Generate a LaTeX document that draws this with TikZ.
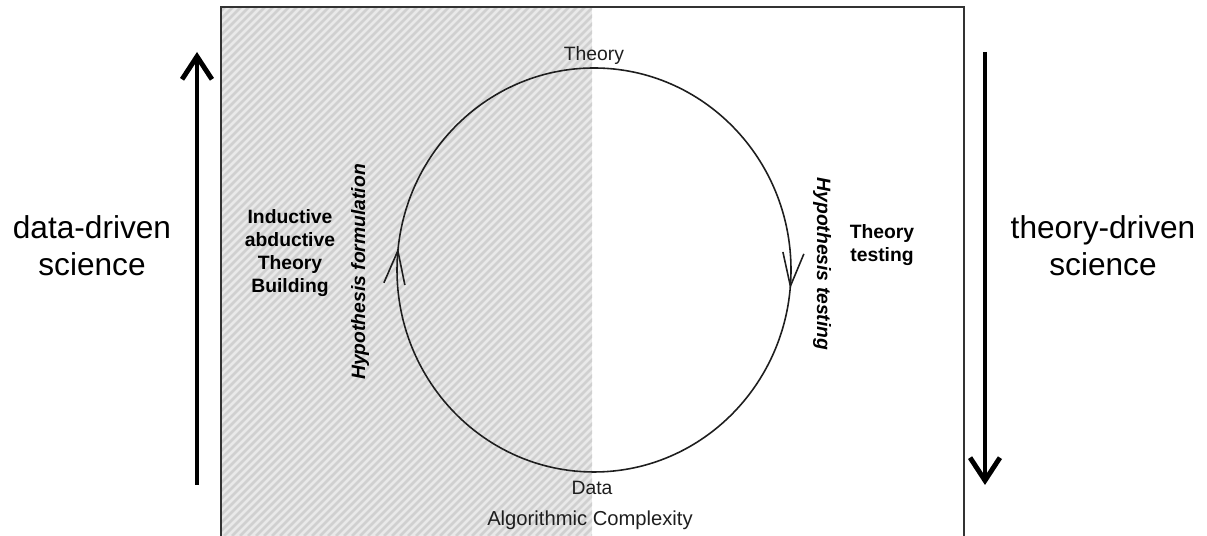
\documentclass[tikz,border=0pt]{standalone}
\usepackage{fontspec}
\setmainfont{Liberation Sans}
\usetikzlibrary{arrows.meta,decorations.markings}
\definecolor{Hatch}{HTML}{E9E9E9}
\definecolor{HatchLine}{HTML}{D0D0D0}
\definecolor{Frame}{HTML}{333333}
\definecolor{Ink}{HTML}{1E1E1E}

\begin{document}
\begin{tikzpicture}[x=0.02cm,y=0.02cm]
      \tikzstyle{side}=[align=center, font=\fontsize{18}{21}\selectfont]
      \tikzstyle{phase}=[align=center, font=\fontsize{11}{13}\selectfont\bfseries]
      \tikzstyle{hyp}=[font=\fontsize{11}{13}\selectfont\bfseries\itshape]
      \tikzstyle{pole}=[font=\fontsize{11}{13}\selectfont, text=Ink]
      \tikzstyle{trend}=[line width=2.8pt, -{Straight Barb[length=13pt,width=17pt]}]
      \tikzstyle{cycle}=[line width=0.9pt, color=Ink]
      \useasboundingbox (0,0) rectangle (1207,536);
      % shaded half
      \begin{scope}
        \clip (221,0) rectangle (592,529);
        \fill[Hatch] (221,0) rectangle (592,529);
        \foreach \i in {-544,-536,...,600}
          \draw[HatchLine, line width=1.6pt] (\i,0) -- (\i+600,600);
      \end{scope}
      \draw[Frame, line width=1.1pt] (221,0) -- (221,529) -- (964,529) -- (964,0);
      % cycle
      \coordinate (top) at (594,468);
      \coordinate (bot) at (594,64);
      \node[pole] (theory) at (594,480) {Theory};
      \node[pole] (data) at (592,48) {Data};
      \node[pole, font=\fontsize{11.5}{13}\selectfont] (algo) at (590,16) {Algorithmic Complexity};
      \draw[cycle, decoration={markings, mark=at position 0.535 with {\arrow{Straight Barb[length=19pt,width=12pt]}}}, postaction=decorate]
        (bot) arc[start angle=270, end angle=90, x radius=197, y radius=202];
      \draw[cycle, decoration={markings, mark=at position 0.53 with {\arrow{Straight Barb[length=19pt,width=12pt]}}}, postaction=decorate]
        (top) arc[start angle=90, end angle=-90, x radius=197, y radius=202];
      \node[hyp, rotate=90] (form) at (360,264) {Hypothesis formulation};
      \node[hyp, rotate=-90] (test) at (822,272) {Hypothesis testing};
      \node[phase] (build) at (290,283) {Inductive\\abductive\\Theory\\Building};
      \node[phase] (check) at (882,291) {Theory\\testing};
      % sides
      \node[side] (dd) at (92,290) {data-driven\\science};
      \node[side] (td) at (1103,290) {theory-driven\\science};
      \coordinate (ddlow) at (197,51);
      \coordinate (ddhigh) at (197,484);
      \coordinate (tdhigh) at (985,484);
      \coordinate (tdlow) at (985,51);
      \draw[trend] (ddlow) -- (ddhigh);
      \draw[trend] (tdhigh) -- (tdlow);
    \end{tikzpicture}
\end{document}
